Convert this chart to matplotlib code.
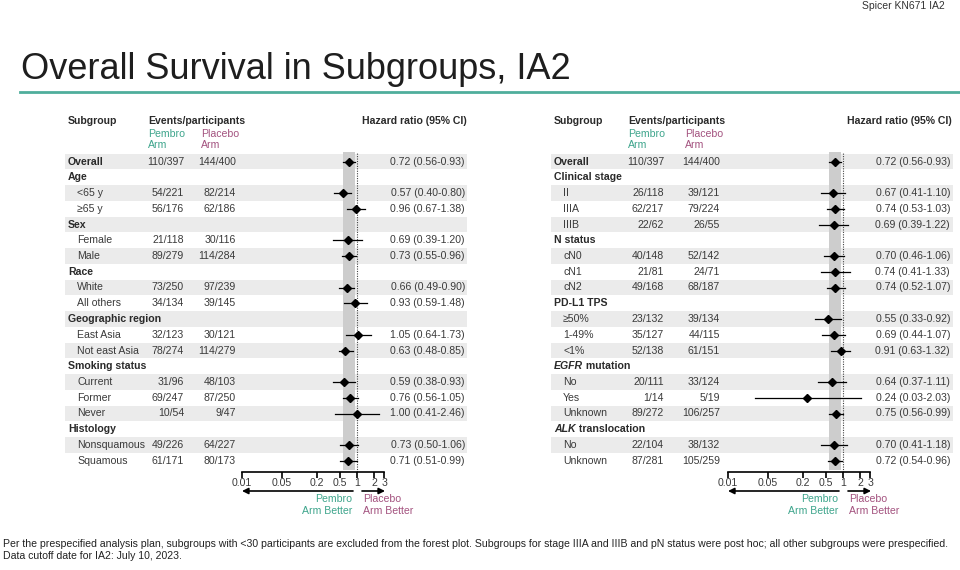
import numpy as np
import matplotlib
matplotlib.use("Agg")
import matplotlib.pyplot as plt
from matplotlib.lines import Line2D
from matplotlib.transforms import blended_transform_factory
from matplotlib.ticker import NullLocator

plt.rcParams['font.family'] = ['Liberation Sans', 'DejaVu Sans']

# ---- data: left panel ----
left_labels = ['Overall', 'Age', '<65 y', '\u226565 y', 'Sex', 'Female', 'Male',
               'Race', 'White', 'All others', 'Geographic region', 'East Asia',
               'Not east Asia', 'Smoking status', 'Current', 'Former', 'Never',
               'Histology', 'Nonsquamous', 'Squamous']
left_pembro = ['110/397', None, '54/221', '56/176', None, '21/118', '89/279',
               None, '73/250', '34/134', None, '32/123', '78/274', None,
               '31/96', '69/247', '10/54', None, '49/226', '61/171']
left_placebo = ['144/400', None, '82/214', '62/186', None, '30/116', '114/284',
                None, '97/239', '39/145', None, '30/121', '114/279', None,
                '48/103', '87/250', '9/47', None, '64/227', '80/173']
left_hr = [0.72, None, 0.57, 0.96, None, 0.69, 0.73, None, 0.66, 0.93, None,
           1.05, 0.63, None, 0.59, 0.76, 1.00, None, 0.73, 0.71]
left_lo = [0.56, None, 0.40, 0.67, None, 0.39, 0.55, None, 0.49, 0.59, None,
           0.64, 0.48, None, 0.38, 0.56, 0.41, None, 0.50, 0.51]
left_hi = [0.93, None, 0.80, 1.38, None, 1.20, 0.96, None, 0.90, 1.48, None,
           1.73, 0.85, None, 0.93, 1.05, 2.46, None, 1.06, 0.99]

# ---- data: right panel ----
right_labels = ['Overall', 'Clinical stage', 'II', 'IIIA', 'IIIB', 'N status',
                'cN0', 'cN1', 'cN2', 'PD-L1 TPS', '\u226550%', '1-49%', '<1%',
                'EGFR mutation', 'No', 'Yes', 'Unknown', 'ALK translocation',
                'No', 'Unknown']
right_pembro = ['110/397', None, '26/118', '62/217', '22/62', None, '40/148',
                '21/81', '49/168', None, '23/132', '35/127', '52/138', None,
                '20/111', '1/14', '89/272', None, '22/104', '87/281']
right_placebo = ['144/400', None, '39/121', '79/224', '26/55', None, '52/142',
                 '24/71', '68/187', None, '39/134', '44/115', '61/151', None,
                 '33/124', '5/19', '106/257', None, '38/132', '105/259']
right_hr = [0.72, None, 0.67, 0.74, 0.69, None, 0.70, 0.74, 0.74, None, 0.55,
            0.69, 0.91, None, 0.64, 0.24, 0.75, None, 0.70, 0.72]
right_lo = [0.56, None, 0.41, 0.53, 0.39, None, 0.46, 0.41, 0.52, None, 0.33,
            0.44, 0.63, None, 0.37, 0.03, 0.56, None, 0.41, 0.54]
right_hi = [0.93, None, 1.10, 1.03, 1.22, None, 1.06, 1.33, 1.07, None, 0.92,
            1.07, 1.32, None, 1.11, 2.03, 0.99, None, 1.18, 0.96]

tick_vals = [0.01, 0.05, 0.2, 0.5, 1, 2, 3]
tick_labels = ['0.01', '0.05', '0.2', '0.5', '1', '2', '3']

TEAL = '#3ea58c'
PURPLE = '#a3527f'
TXT = '#3a3a3a'
FS = 7.6

W, H = 960, 570
fig = plt.figure(figsize=(W / 100, H / 100), dpi=100)


def fx(px):
    return px / W


def fy(py):
    return 1 - py / H


ROW0, ROWH = 161.5, 15.75
AX_TOP, AX_BOT = 152, 472
DEC = 57.5  # px per decade


def yrow(py):
    return (py - ROW0) / ROWH


def panel(x0, labels, pembro, placebo, hr, lo, hi, col_pe, col_pl, col_hr):
    ax = fig.add_axes([fx(x0 + 65), fy(AX_BOT), fx(402), (AX_BOT - AX_TOP) / H])
    ax.set_xscale('log')
    x001 = x0 + 242
    x1 = x001 + 2 * DEC
    ax.set_xlim(10 ** (-2 - (x001 - x0 - 65) / DEC), 10 ** ((x0 + 467 - x1) / DEC))
    ax.set_ylim(yrow(AX_BOT), yrow(AX_TOP))
    ax.set_facecolor('none')

    # alternating row bands
    for i in range(len(labels)):
        if i % 2 == 0:
            ax.axhspan(i - 0.5, i + 0.5, color='#ebebeb', lw=0, zorder=0)
    ax.axvspan(lo[0], hi[0], ymin=0.005, color='#cdcdcd', lw=0, zorder=1)
    ax.axvline(1, color='#444444', lw=0.8, ls=(0, (1, 1.2)), zorder=2)

    for i in range(len(labels)):
        if hr[i] is None:
            continue
        ax.plot([lo[i], hi[i]], [i, i], color='black', lw=0.9, zorder=3)
        ax.plot(hr[i], i, marker='D', ms=4.2, color='black', zorder=4)

    # axis
    for s in ['top', 'left', 'right']:
        ax.spines[s].set_visible(False)
    ax.spines['bottom'].set_bounds(0.01, 3)
    ax.spines['bottom'].set_linewidth(1.2)
    ax.set_xticks(tick_vals)
    ax.set_xticklabels(tick_labels)
    ax.xaxis.set_minor_locator(NullLocator())
    ax.tick_params(axis='x', direction='out', length=4, width=1.2, pad=0.5,
                   labelsize=FS, labelcolor=TXT)
    ax.set_yticks([])

    # direction arrows
    ya = yrow(491)
    ax.annotate('', xy=(0.01, ya), xytext=(10 ** (-4 / DEC), ya),
                arrowprops=dict(arrowstyle='-|>', color='black', lw=1.2,
                                mutation_scale=9, shrinkA=0, shrinkB=0),
                annotation_clip=False)
    ax.annotate('', xy=(10 ** (28 / DEC), ya), xytext=(10 ** (5 / DEC), ya),
                arrowprops=dict(arrowstyle='-|>', color='black', lw=1.2,
                                mutation_scale=9, shrinkA=0, shrinkB=0),
                annotation_clip=False)
    ax.text(10 ** (-5 / DEC), yrow(494.5), 'Pembro\nArm Better', ha='right',
            va='top', ma='right', color=TEAL, fontsize=FS, linespacing=1.2,
            clip_on=False)
    ax.text(10 ** (6 / DEC), yrow(494.5), 'Placebo\nArm Better', ha='left',
            va='top', ma='left', color=PURPLE, fontsize=FS, linespacing=1.2,
            clip_on=False)

    # text columns
    tr = blended_transform_factory(fig.transFigure, ax.transData)
    for i, lab in enumerate(labels):
        is_head = pembro[i] is None
        if is_head or i == 0:
            if lab.split(' ')[0] in ('EGFR', 'ALK'):
                first, rest = lab.split(' ', 1)
                t = ax.text(fx(x0 + 68), i, first, transform=tr, va='center',
                            fontsize=FS, fontweight='bold', style='italic',
                            color='#2a2a2a')
                ax.annotate(' ' + rest, xy=(1, 0), xycoords=t, va='bottom',
                            ha='left', fontsize=FS, fontweight='bold',
                            color='#2a2a2a')
            else:
                ax.text(fx(x0 + 68), i, lab, transform=tr, va='center',
                        fontsize=FS, fontweight='bold', color='#2a2a2a')
        else:
            ax.text(fx(x0 + 77), i, lab, transform=tr, va='center',
                    fontsize=FS, color=TXT)
        if not is_head:
            ax.text(fx(col_pe), i, pembro[i], transform=tr, va='center',
                    ha='right', fontsize=FS, color=TXT)
            ax.text(fx(col_pl), i, placebo[i], transform=tr, va='center',
                    ha='right', fontsize=FS, color=TXT)
            ax.text(fx(col_hr), i, '%.2f (%.2f-%.2f)' % (hr[i], lo[i], hi[i]),
                    transform=tr, va='center', ha='right', fontsize=FS,
                    color=TXT)

    # column headers
    hx = col_pe - 36
    fig.text(fx(x0 + 68), fy(121), 'Subgroup', fontsize=FS, fontweight='bold',
             va='center', color='#2a2a2a')
    fig.text(fx(hx), fy(121), 'Events/participants', fontsize=FS,
             fontweight='bold', va='center', color='#2a2a2a')
    fig.text(fx(hx), fy(139.5), 'Pembro\nArm', fontsize=FS, va='center',
             color=TEAL, linespacing=1.2)
    fig.text(fx(col_pl - 35), fy(139.5), 'Placebo\nArm', fontsize=FS,
             va='center', color=PURPLE, linespacing=1.2)
    fig.text(fx(col_hr + 2), fy(121), 'Hazard ratio (95% CI)', fontsize=FS,
             fontweight='bold', va='center', ha='right', color='#2a2a2a')
    return ax


panel(0, left_labels, left_pembro, left_placebo, left_hr, left_lo, left_hi,
      184, 236, 465)
panel(486, right_labels, right_pembro, right_placebo, right_hr, right_lo,
      right_hi, 664, 720, 950)

# title and rule
fig.text(fx(21), fy(70), 'Overall Survival in Subgroups, IA2', fontsize=26,
         va='center', ha='left', color='#1e1e1e')
fig.add_artist(Line2D([fx(20), 1.0], [fy(92), fy(92)], color='#4fae9c', lw=2))
fig.text(fx(862), fy(1), 'Spicer KN671 IA2', fontsize=7.5, va='top',
         ha='left', color='#333333')

# footnote
foot = ('Per the prespecified analysis plan, subgroups with <30 participants are '
        'excluded from the forest plot. Subgroups for stage IIIA and IIIB and pN '
        'status were post hoc; all other subgroups were prespecified.\n'
        'Data cutoff date for IA2: July 10, 2023.')
fig.text(fx(3), fy(539), foot, fontsize=7.6, va='top', ha='left',
         color='#222222', linespacing=1.2)

fig.savefig('out.png', dpi=100)
